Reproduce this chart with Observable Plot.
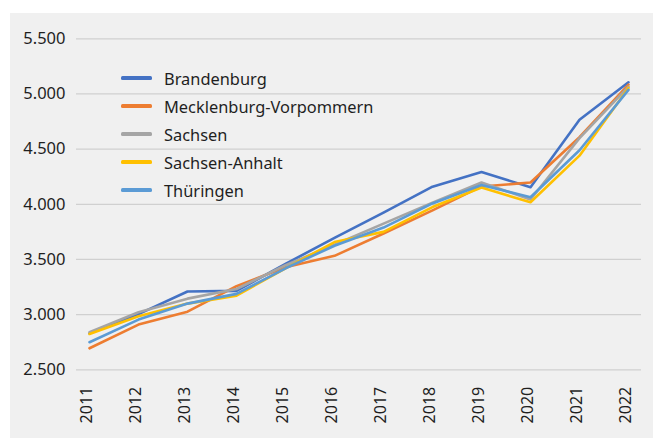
<!DOCTYPE html>
<html><head><meta charset="utf-8">
<script src="https://cdn.jsdelivr.net/npm/d3@7"></script>
<script src="https://cdn.jsdelivr.net/npm/@observablehq/plot@0.6"></script>
<style>
body{margin:0;background:#fff;font-family:"Noto Sans",sans-serif;}
#panel{position:absolute;left:10px;top:13px;width:643px;height:425px;background:#f0f0f0;overflow:hidden;}
#panel svg{position:absolute;left:0;top:0;}
#legend{position:absolute;left:111px;top:51px;font-size:16.4px;color:#1f1f1f;}
.row{height:28px;display:flex;align-items:center;}
.sw{width:31px;height:3.2px;border-radius:1.5px;margin-right:12px;}
</style>
</head><body>
<div id="panel"><div id="legend"></div></div>
<script>
const years = ["2011","2012","2013","2014","2015","2016","2017","2018","2019","2020","2021","2022"];
const states = ["Brandenburg","Mecklenburg-Vorpommern","Sachsen","Sachsen-Anhalt","Thüringen"];
const colors = ["#4472C4","#ED7D31","#A5A5A5","#FFC000","#5B9BD5"];
const brandenburg = [2830,3005,3210,3215,3460,3695,3925,4160,4292,4155,4766,5106];
const mecklenburgVorpommern = [2695,2910,3027,3258,3430,3533,3735,3945,4162,4197,4608,5085];
const sachsen = [2840,3022,3145,3232,3448,3633,3825,4015,4198,4043,4600,5067];
const sachsenAnhalt = [2825,2985,3100,3172,3420,3658,3750,3975,4152,4018,4441,5055];
const thueringen = [2750,2955,3100,3188,3420,3624,3789,4008,4175,4064,4490,5037];
const yTicks = [2500,3000,3500,4000,4500,5000,5500];

const seriesValues = [brandenburg, mecklenburgVorpommern, sachsen, sachsenAnhalt, thueringen];
const rows = [];
states.forEach((s, i) => years.forEach((y, j) => rows.push({state: s, year: y, value: seriesValues[i][j]})));

const de = d3.formatLocale({decimal: ",", thousands: ".", grouping: [3], currency: ["", " €"]});
const fmt = de.format(",d");

const chart = Plot.plot({
  width: 643,
  height: 425,
  marginTop: 25.3,
  marginBottom: 68.7,
  marginLeft: 66,
  marginRight: 12,
  style: {background: "transparent", fontFamily: "'Noto Sans', sans-serif", fontSize: "16px", color: "#1f1f1f"},
  x: {type: "point", domain: years, padding: 0.175},
  y: {domain: [2500, 5500]},
  color: {domain: states, range: colors},
  marks: [
    Plot.gridY(yTicks, {stroke: "#d0d0d0", strokeOpacity: 1, strokeWidth: 1.2}),
    Plot.axisY(yTicks, {tickSize: 0, tickPadding: 11, tickFormat: fmt, label: null, fontSize: 16.5}),
    Plot.axisX(years, {tickSize: 0, tickRotate: -90, tickPadding: 17, label: null, fontSize: 16, dx: -3}),
    Plot.line(rows, {x: "year", y: "value", z: "state", stroke: "state", strokeWidth: 2.6, strokeLinejoin: "round", strokeLinecap: "round"})
  ]
});
document.getElementById("panel").appendChild(chart);

const legend = document.getElementById("legend");
states.forEach((s, i) => {
  const r = document.createElement("div");
  r.className = "row";
  r.innerHTML = `<div class="sw" style="background:${colors[i]}"></div><span>${s}</span>`;
  legend.appendChild(r);
});
</script>
</body></html>
